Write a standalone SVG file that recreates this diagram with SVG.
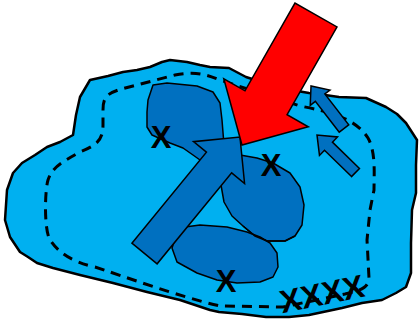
<svg xmlns="http://www.w3.org/2000/svg" width="419" height="320" viewBox="0 0 419 320">
<style>
.outer{fill:#00B0F0;stroke:#000;stroke-width:2.5;stroke-linejoin:round}
.blob{fill:#0070C0;stroke:#000;stroke-width:1.5;stroke-linejoin:round}
.edge{fill:none;stroke:#000;stroke-width:1.5}
.dash{fill:none;stroke:#000;stroke-width:3;stroke-dasharray:10 7}
.barrow{fill:#0070C0;stroke:#000;stroke-width:1.5;stroke-linejoin:miter}
.rarrow{fill:#FF0000;stroke:#000;stroke-width:1.5}
.x{font-family:"Liberation Sans",Arial,sans-serif;font-weight:bold;font-size:31px;fill:#000;text-anchor:middle}
</style>
<g id="region">
<path class="outer" d="M22,163 L35,155 L47,147 L60,142 L73,135 L76,115 L80,97 L90,80 L108,76 L123,72 L137,70 L150,67 L162,62 L170,60 L187,62 L200,65 L210,67 L229,68 L246,77 L280,88 L309,93 L325,95 L339,97 L366,98 L386,107 L397,114 L406,123 L417,140 L416,165 L416,193 L412,210 L411,243 L411,273 L406,287 L396,293 L382,300 L362,303 L342,308 L309,315 L289,317 L266,317 L242,314 L219,312 L210,310 L180,300 L147,292 L113,283 L80,275 L53,268 L37,263 L28,257 L20,252 L10,237 L5,220 L6,205 L7,190 L13,173 Z"/>
</g>
<g id="boundary">
<path class="dash" d="M103,110 C103,95 108,92 133,86 L175,75 C195,71 205,74 220,80 L300,106 C330,112 355,118 368,138 C376,152 374,175 374,190 L370,210 L367,240 L369,278 C368,288 362,290 345,294 L283,307 L220,306 C180,297 120,275 95,267 C72,262 57,252 49,238 C44,225 45,190 48,180 C52,168 60,163 80,152 C97,145 103,140 103,125 Z"/>
</g>
<g id="blob1">
<path class="blob" d="M153,85 L167,83 L197,86 L213,92 L220,103 L222,120 L224,145 L228,165 L210,168 L200,160 L193,155 L183,148 L170,143 L152,135 L147,127 L147,112 L148,100 Z"/>
</g>
<g id="blob2">
<path class="blob" d="M240,155 L257,158 L273,163 L290,173 L300,187 L304,205 L302,225 L295,236 L285,241 L267,241 L255,236 L243,226 L232,216 L224,202 L221,185 L226,170 Z"/>
</g>
<g id="blob3">
<path class="blob" d="M185,227 L200,225 L227,227 L247,232 L260,237 L270,243 L277,253 L278,267 L273,277 L260,282 L237,283 L217,280 L197,273 L177,262 L172,248 L176,236 Z"/>
<path class="edge" d="M243,226 L255,236 L267,241 L285,241 L295,236"/>
</g>
<g id="connectors">
<polygon id="big-arrow" class="barrow" transform="translate(144.5,253.5) rotate(-50.66)" points="0,-16.3 117.6,-16.3 117.6,-33 150.6,0 117.6,33 117.6,16.3 0,16.3"/>
<polygon id="red-arrow" class="rarrow" transform="translate(316,15) rotate(119.65)" points="0,-24.2 101,-24.2 101,-48.6 149.6,0 101,48.6 101,24.2 0,24.2"/>
<polygon id="small-arrow-a" class="barrow" transform="translate(344,128.5) rotate(-127.8)" points="0,-6 39,-6 39,-12.5 53.8,0 39,12.5 39,6 0,6"/>
<polygon id="small-arrow-b" class="barrow" transform="translate(355.5,172.5) rotate(-135.8)" points="0,-5.7 37.7,-5.7 37.7,-12.9 53.7,0 37.7,12.9 37.7,5.7 0,5.7"/>
</g>
<g id="marks">
<text class="x" x="161" y="148">X</text>
<text class="x" x="271" y="176">X</text>
<text class="x" x="226" y="292">X</text>
<text class="x" transform="translate(322,294) rotate(-11.5)" x="0" y="11" style="font-size:32px">XXXX</text>
</g>
</svg>
